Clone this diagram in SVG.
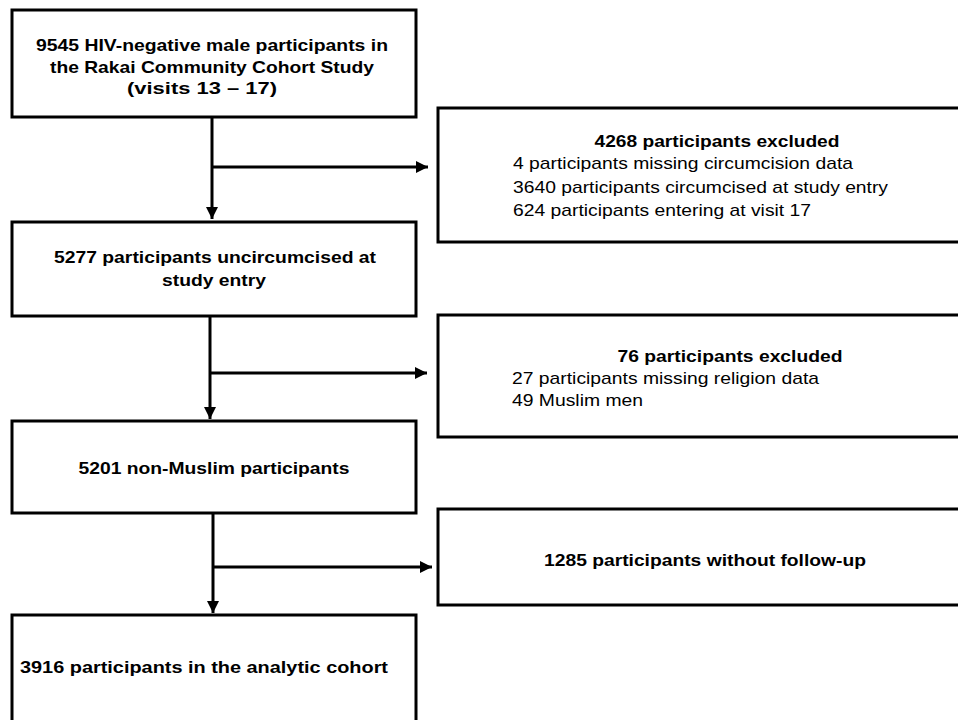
<svg xmlns="http://www.w3.org/2000/svg" width="958" height="720" viewBox="0 0 958 720">
<style>
.box{fill:#fff;stroke:#000;stroke-width:3}
.ln{fill:none;stroke:#000;stroke-width:3}
text{font-family:"Liberation Sans",Arial,Helvetica,sans-serif;font-size:17px;fill:#000}
.b{font-weight:bold;text-anchor:middle}
</style>
<defs>
<marker id="ah" viewBox="0 0 12 12" refX="12" refY="6" markerWidth="12" markerHeight="12" markerUnits="userSpaceOnUse" orient="auto">
<path d="M0,0 L12,6 L0,12 Z" fill="#000"/>
</marker>
</defs>
<rect width="958" height="720" fill="#fff"/>
<g id="connectors">
<path class="ln" d="M212,117 V219" marker-end="url(#ah)"/>
<path class="ln" d="M212,167 H428" marker-end="url(#ah)"/>
<path class="ln" d="M210,316 V419" marker-end="url(#ah)"/>
<path class="ln" d="M210,373 H427" marker-end="url(#ah)"/>
<path class="ln" d="M213,513 V613" marker-end="url(#ah)"/>
<path class="ln" d="M213,567 H432" marker-end="url(#ah)"/>
</g>
<g id="n1">
<rect class="box" x="12" y="10" width="404" height="107"/>
<text class="b" x="212" y="51" textLength="352" lengthAdjust="spacingAndGlyphs">9545 HIV-negative male participants in</text>
<text class="b" x="212" y="73" textLength="324" lengthAdjust="spacingAndGlyphs">the Rakai Community Cohort Study</text>
<text class="b" x="202" y="94" textLength="150" lengthAdjust="spacingAndGlyphs">(visits 13 – 17)</text>
</g>
<g id="n2">
<rect class="box" x="12" y="222" width="404" height="94"/>
<text class="b" x="215" y="263" textLength="322" lengthAdjust="spacingAndGlyphs">5277 participants uncircumcised at</text>
<text class="b" x="214" y="286" textLength="104" lengthAdjust="spacingAndGlyphs">study entry</text>
</g>
<g id="n3">
<rect class="box" x="12" y="421" width="404" height="92"/>
<text class="b" x="214" y="474" textLength="271" lengthAdjust="spacingAndGlyphs">5201 non-Muslim participants</text>
</g>
<g id="n4">
<rect class="box" x="12" y="615" width="404" height="120"/>
<text class="b" x="204" y="673" textLength="368" lengthAdjust="spacingAndGlyphs">3916 participants in the analytic cohort</text>
</g>
<g id="x1">
<rect class="box" x="438" y="108" width="540" height="134"/>
<text class="b" x="717" y="147" textLength="245" lengthAdjust="spacingAndGlyphs">4268 participants excluded</text>
<text x="513" y="169" textLength="340" lengthAdjust="spacingAndGlyphs">4 participants missing circumcision data</text>
<text x="513" y="193" textLength="375" lengthAdjust="spacingAndGlyphs">3640 participants circumcised at study entry</text>
<text x="513" y="216" textLength="298" lengthAdjust="spacingAndGlyphs">624 participants entering at visit 17</text>
</g>
<g id="x2">
<rect class="box" x="438" y="315" width="540" height="122"/>
<text class="b" x="730" y="362" textLength="225" lengthAdjust="spacingAndGlyphs">76 participants excluded</text>
<text x="512" y="384" textLength="307" lengthAdjust="spacingAndGlyphs">27 participants missing religion data</text>
<text x="512" y="406" textLength="131" lengthAdjust="spacingAndGlyphs">49 Muslim men</text>
</g>
<g id="x3">
<rect class="box" x="438" y="509" width="540" height="96"/>
<text class="b" x="705" y="566" textLength="322" lengthAdjust="spacingAndGlyphs">1285 participants without follow-up</text>
</g>
</svg>
